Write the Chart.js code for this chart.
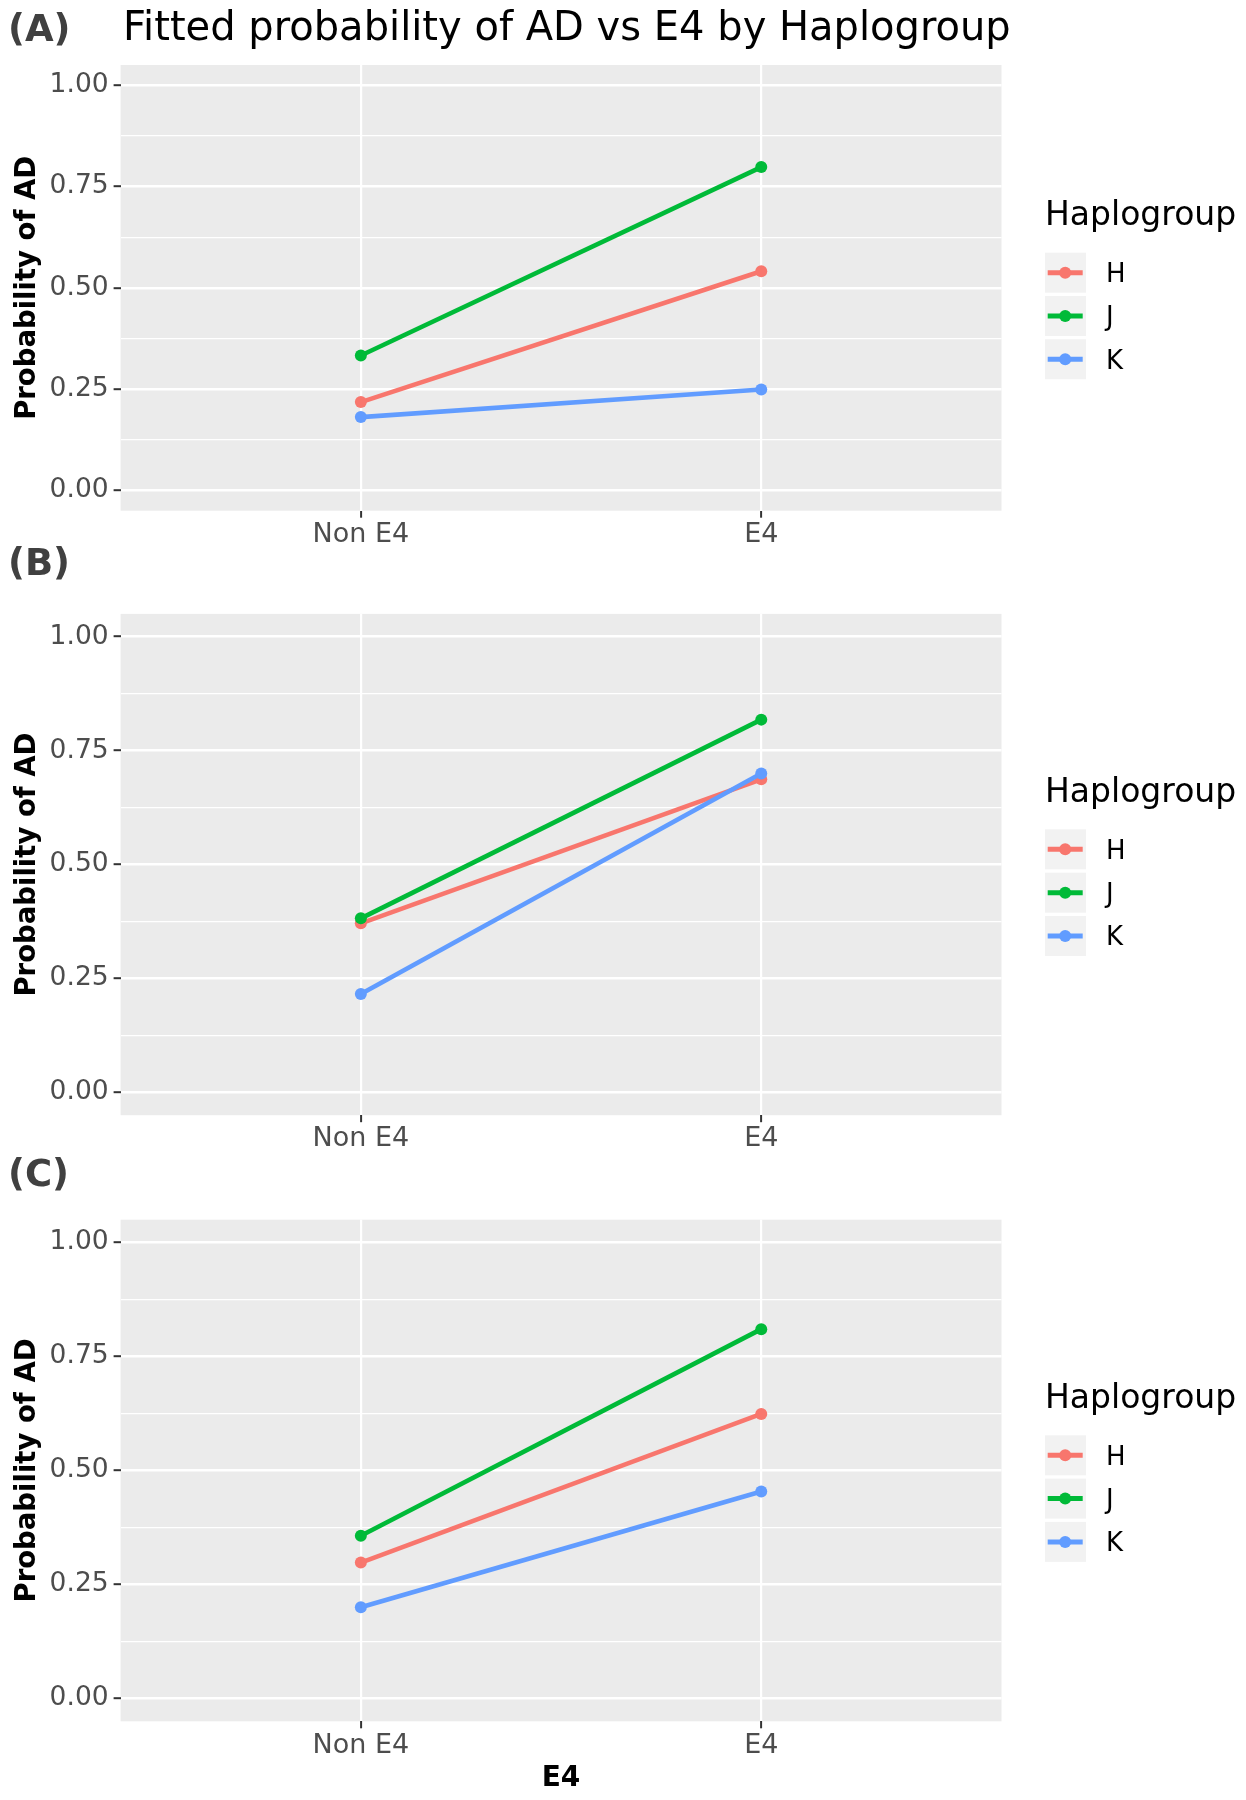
<!DOCTYPE html>
<html><head><meta charset="utf-8">
<script src="https://cdn.jsdelivr.net/npm/chart.js@4.4.1/dist/chart.umd.min.js"></script>
<style>
html,body{margin:0;padding:0;background:#fff;}
#wrap{position:relative;width:1246px;height:1800px;}
canvas{position:absolute;left:0;top:0;}
</style></head><body>
<div id="wrap">
<canvas id="cA" width="1246" height="1800"></canvas>
<canvas id="cB" width="1246" height="1800"></canvas>
<canvas id="cC" width="1246" height="1800"></canvas>
</div>
<script>
// ---------- data ----------
const categories = ['Non E4', 'E4'];
const groups = ['H', 'J', 'K'];
const groupColors = ['#F8766D', '#00BA38', '#619CFF'];
const yMajorTicks = [0, 0.25, 0.5, 0.75, 1.0];
const yMinorTicks = [0.125, 0.375, 0.625, 0.875];
const panelLetters = ['(A)', '(B)', '(C)'];
const mainTitle = 'Fitted probability of AD vs E4 by Haplogroup';
const yAxisTitle = 'Probability of AD';
const xAxisTitle = 'E4';
const legendTitle = 'Haplogroup';

const panelA_H = [0.218, 0.541];
const panelA_J = [0.333, 0.798];
const panelA_K = [0.181, 0.249];
const panelB_H = [0.371, 0.687];
const panelB_J = [0.382, 0.818];
const panelB_K = [0.216, 0.700];
const panelC_H = [0.298, 0.624];
const panelC_J = [0.357, 0.810];
const panelC_K = [0.200, 0.454];

// ---------- layout / style ----------
const FONT = '"DejaVu Sans", "Liberation Sans", sans-serif';
const PAGE_H = 1800, PAGE_W = 1246;
const LEFT = 120.6, RIGHT = 1001.5;
const panels = [
  {id: 'cA', letter: panelLetters[0], top: 65, bottom: 510.7, letterBase: 40, showTitle: true, xTitle: false, xh: 60, series: [panelA_H, panelA_J, panelA_K]},
  {id: 'cB', letter: panelLetters[1], top: 613.9, bottom: 1115.2, letterBase: 574, showTitle: false, xTitle: false, xh: 60, series: [panelB_H, panelB_J, panelB_K]},
  {id: 'cC', letter: panelLetters[2], top: 1219.7, bottom: 1721.3, letterBase: 1185, showTitle: false, xTitle: true, xh: 78.7, series: [panelC_H, panelC_J, panelC_K]}
];
const isMajor = v => yMajorTicks.some(m => Math.abs(m - v) < 1e-9);

const panelDeco = {
  id: 'panelDeco',
  beforeDraw(chart) {
    const {ctx, chartArea: a} = chart;
    ctx.save();
    ctx.fillStyle = '#EBEBEB';
    ctx.fillRect(a.left, a.top, a.right - a.left, a.bottom - a.top);
    ctx.restore();
  },
  afterDraw(chart, args, opts) {
    const {ctx, chartArea: a} = chart;
    ctx.save();
    ctx.textAlign = 'left';
    ctx.textBaseline = 'alphabetic';
    ctx.font = 'bold 37px ' + FONT;
    ctx.fillStyle = '#404040';
    ctx.fillText(opts.letter, 8, opts.letterBase + 1);
    if (opts.showTitle) {
      ctx.font = '40px ' + FONT;
      ctx.fillStyle = '#000000';
      ctx.fillText(mainTitle, 123, opts.letterBase);
    }
    // legend
    const cy = (a.top + a.bottom) / 2;
    ctx.font = '33px ' + FONT;
    ctx.fillStyle = '#000000';
    ctx.fillText(legendTitle, 1045, cy - 62.5);
    chart.data.datasets.forEach((ds, i) => {
      const ky = cy - 15.2 + i * 43.3;
      ctx.fillStyle = '#F2F2F2';
      ctx.fillRect(1045, ky - 20, 41, 40);
      ctx.strokeStyle = ds.borderColor;
      ctx.lineWidth = 5;
      ctx.beginPath();
      ctx.moveTo(1047.7, ky);
      ctx.lineTo(1082.7, ky);
      ctx.stroke();
      ctx.fillStyle = ds.borderColor;
      ctx.beginPath();
      ctx.arc(1065.2, ky, 6, 0, Math.PI * 2);
      ctx.fill();
      ctx.fillStyle = '#000000';
      ctx.font = '26px ' + FONT;
      ctx.fillText(ds.label, 1106, ky + 9.5);
    });
    ctx.restore();
  }
};

panels.forEach(p => {
  const datasets = groups.map((g, i) => ({
    label: g,
    data: p.series[i].map((v, j) => ({x: j, y: v})),
    borderColor: groupColors[i],
    backgroundColor: groupColors[i],
    pointBackgroundColor: groupColors[i],
    pointBorderWidth: 0,
    pointRadius: 6,
    pointHoverRadius: 6,
    borderWidth: 4.6,
    tension: 0,
    fill: false,
    order: groups.length - i
  }));
  new Chart(document.getElementById(p.id), {
    type: 'line',
    data: {datasets},
    plugins: [panelDeco],
    options: {
      responsive: false,
      animation: false,
      devicePixelRatio: 1,
      events: [],
      layout: {autoPadding: false, padding: {left: 0, right: PAGE_W - RIGHT, top: p.top, bottom: PAGE_H - p.bottom - p.xh}},
      plugins: {
        legend: {display: false},
        tooltip: {enabled: false},
        panelDeco: {letter: p.letter, letterBase: p.letterBase, showTitle: p.showTitle}
      },
      scales: {
        x: {
          type: 'linear', min: -0.6, max: 1.6,
          afterBuildTicks: s => { s.ticks = categories.map((c, i) => ({value: i})); },
          afterFit: s => { s.height = p.xh; },
          ticks: {autoSkip: false, maxRotation: 0, padding: 1, color: '#4D4D4D',
                  font: {family: FONT, size: 27},
                  callback: v => categories[v] !== undefined ? categories[v] : ''},
          grid: {color: '#FFFFFF', lineWidth: 2.2, drawTicks: true, tickLength: 7, tickWidth: 2, tickColor: '#333333'},
          border: {display: false},
          title: {display: p.xTitle, text: xAxisTitle, color: '#000000',
                  font: {family: FONT, size: 28, weight: 'bold'}, padding: {top: 0, bottom: 4}}
        },
        y: {
          type: 'linear', min: -0.05, max: 1.05,
          afterBuildTicks: s => { s.ticks = [...yMajorTicks, ...yMinorTicks].sort((a, b) => a - b).map(v => ({value: v})); },
          afterFit: s => { s.width = LEFT; },
          ticks: {autoSkip: false, padding: 5, color: '#4D4D4D',
                  font: {family: FONT, size: 26.5},
                  callback: v => isMajor(v) ? v.toFixed(2) : ''},
          grid: {
            color: '#FFFFFF',
            lineWidth: c => (c.tick && isMajor(c.tick.value)) ? 2.4 : 1.2,
            drawTicks: true, tickLength: 7, tickWidth: 2,
            tickColor: c => (c.tick && isMajor(c.tick.value)) ? '#333333' : 'rgba(0,0,0,0)'
          },
          border: {display: false},
          title: {display: true, text: yAxisTitle, color: '#000000',
                  font: {family: FONT, size: 27.5, weight: 'bold'}, padding: {top: 11, bottom: 0}}
        }
      }
    }
  });
});
</script>
</body></html>
